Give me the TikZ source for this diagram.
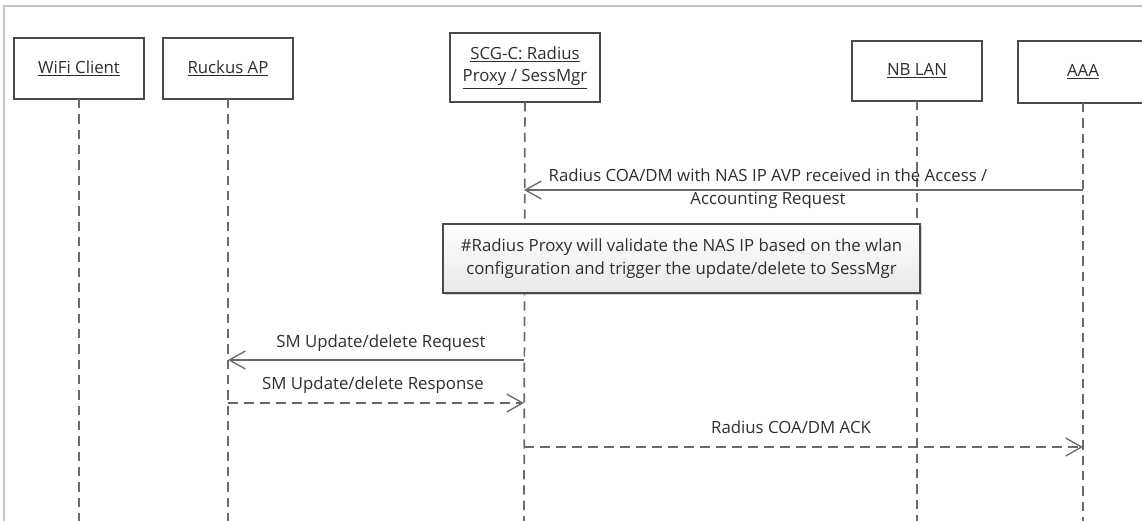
\documentclass[tikz,border=0pt]{standalone}
\usepackage{fontspec}
\setmainfont{Open Sans}
\usetikzlibrary{arrows.meta,shadows}

\definecolor{boxgray}{HTML}{4A4A4A}
\definecolor{linegray}{HTML}{6A6A6A}
\definecolor{textgray}{HTML}{2E2E2E}
\definecolor{framegray}{HTML}{C4C4C4}

\begin{document}
\begin{tikzpicture}[x=0.75pt, y=-0.75pt, outer sep=0pt,
  >={Straight Barb[length=12pt,width=13.5pt,line width=1pt]},
  font=\fontsize{12.6}{17}\selectfont, text=textgray,
  actor/.style={draw=boxgray, line width=1.2pt, minimum width=97.5pt, minimum height=45.75pt, align=center},
  lifeline/.style={draw=linegray, line width=1.3pt, dash pattern=on 7pt off 4.5pt},
  msg/.style={draw=linegray, line width=1.1pt},
  reply/.style={msg, dash pattern=on 7.5pt off 4.5pt},
  msglabel/.style={align=center, inner sep=0pt},
  note/.style={draw=boxgray, line width=1.1pt, top color=white, bottom color=black!9,
    drop shadow={shadow xshift=1.5pt, shadow yshift=-1.5pt, fill=black!35},
    minimum width=357.75pt, minimum height=51.75pt, align=center}]

\useasboundingbox (0,0) rectangle (1142,521);
\draw [framegray, line width=1pt] (4,521) -- (4,6) -- (1142,6);

% participants
\node[actor] (WIFI_CLIENT) at (79,68.5) {\underline{WiFi Client}};
\node[actor] (RUCKUS_AP) at (228,68.5) {\underline{Ruckus AP}};
\node[actor, minimum width=112.5pt, minimum height=51.75pt] (SCG_C) at (525,67.5) {\underline{SCG-C: Radius}\\\underline{Proxy / SessMgr}};
\node[actor, minimum height=45pt] (NB_LAN) at (917,71) {\underline{NB LAN}};
\node[actor, minimum height=46.5pt] (AAA) at (1083,72) {\underline{AAA}};

\coordinate (WIFI_CLIENT_END) at (79,521);
\coordinate (RUCKUS_AP_END) at (228,521);
\coordinate (SCG_C_END) at (524,521);
\coordinate (NB_LAN_END) at (917,521);
\coordinate (AAA_END) at (1083,521);
    \draw [lifeline] (WIFI_CLIENT) -- (WIFI_CLIENT_END);
    \draw [lifeline] (RUCKUS_AP) -- (RUCKUS_AP_END);
    \draw [lifeline] (SCG_C) -- (SCG_C_END);
    \draw [lifeline] (NB_LAN) -- (NB_LAN_END);
    \draw [lifeline] (AAA) -- (AAA_END);

% COA/DM from AAA
\coordinate (AAA_COA) at (1083,190);
\coordinate (SCG_COA) at (524,190);
    \draw [msg, ->] (AAA_COA) -- (SCG_COA);
\node[msglabel] at (768,188.5) (COA_LABEL) {Radius COA/DM with NAS IP AVP received in the Access /\\Accounting Request};

\node[note] at (681.5,258.5) (NOTE) {\#Radius Proxy will validate the NAS IP based on the wlan\\configuration and trigger the update/delete to SessMgr};

% session manager exchange
\coordinate (SCG_REQ) at (524,360);
\coordinate (RUCKUS_REQ) at (228,360);
    \draw [msg, ->] (SCG_REQ) -- (RUCKUS_REQ);
\node[msglabel] at (381,343) (REQ_LABEL) {SM Update/delete Request};
\coordinate (RUCKUS_RSP) at (228,403);
\coordinate (SCG_RSP) at (524,403);
    \draw [reply, ->] (RUCKUS_RSP) -- (SCG_RSP);
\node[msglabel] at (373,385) (RSP_LABEL) {SM Update/delete Response};

% ACK back to AAA
\coordinate (SCG_ACK) at (524,447);
\coordinate (AAA_ACK) at (1083,447);
    \draw [reply, ->] (SCG_ACK) -- (AAA_ACK);
\node[msglabel] at (791,427) (ACK_LABEL) {Radius COA/DM ACK};
\end{tikzpicture}
\end{document}
